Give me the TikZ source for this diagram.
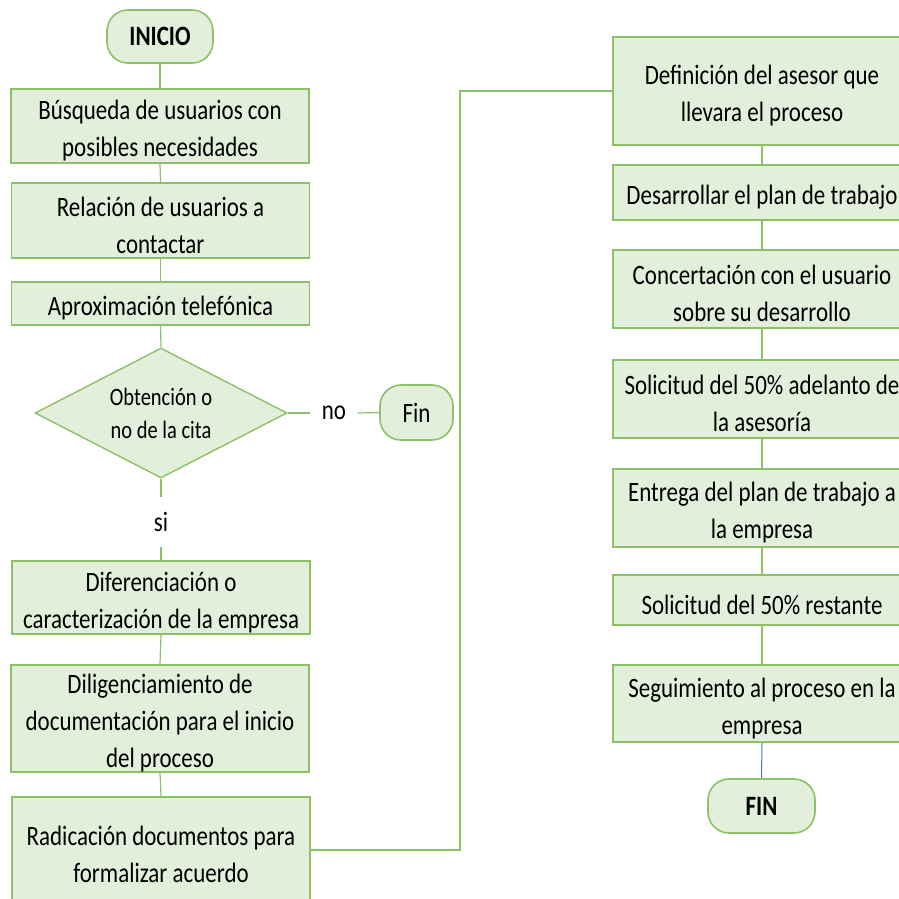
\documentclass[tikz,border=0pt]{standalone}
\usepackage{fontspec}
\setmainfont[FakeStretch=0.82]{Carlito}
\usetikzlibrary{shapes.geometric}
\definecolor{boxfill}{HTML}{E2EFDA}
\definecolor{boxline}{HTML}{8CC168}
\definecolor{lnk}{HTML}{8CC168}
\definecolor{bluelnk}{HTML}{4472C4}
\newcommand\topgap{\rule{0pt}{29pt}}
\begin{document}
\begin{tikzpicture}[x=1pt,y=-1pt,
 proc/.style={draw=boxline, fill=boxfill, line width=1.6pt, minimum width=298pt, inner sep=0pt, align=center, font=\fontsize{28}{37}\selectfont},
 term/.style={draw=boxline, fill=boxfill, line width=1.6pt, rounded corners=21pt, inner sep=0pt, font=\bfseries\fontsize{28}{37}\selectfont},
 dec/.style={diamond, draw=boxline, fill=boxfill, line width=1.4pt, aspect=1.94, minimum width=252pt, minimum height=130pt, inner sep=0pt, align=center, font=\fontsize{25}{33}\selectfont},
 lbl/.style={inner sep=0pt, font=\fontsize{28}{37}\selectfont},
 link/.style={draw=lnk, line width=1.2pt}]
\clip (0,0) rectangle (899,899);
\fill[white] (0,0) rectangle (899,899);
% left column
\node[term, minimum width=106pt, minimum height=53pt] (ini) at (160,36.5) {INICIO};
\node[proc, minimum height=74pt] (b1) at (160,126) {\topgap Búsqueda de usuarios con\\posibles necesidades};
\node[proc, minimum height=75pt] (b2) at (160.5,220.5) {\topgap Relación de usuarios a\\contactar};
\node[proc, minimum height=43pt] (b3) at (160.5,303.5) {\topgap Aproximación telefónica};
\node[dec] (dec) at (161,413) {Obtención o\\no de la cita};
\node[lbl, minimum width=47pt] (no) at (334,413) {no};
\node[term, font=\fontsize{28}{37}\selectfont, minimum width=73pt, minimum height=55pt] (fin) at (416.5,412.5) {Fin};
\node[lbl, minimum height=50pt] (si) at (161,522) {si};
\node[proc, minimum height=73pt] (b4) at (161,597.5) {\topgap Diferenciación o\\caracterización de la empresa};
\node[proc, minimum height=107pt] (b5) at (160,718.5) {\topgap Diligenciamiento de\\documentación para el inicio\\del proceso};
\node[proc, minimum height=106pt] (b6) at (161,850) {\topgap Radicación documentos para\\formalizar acuerdo};
% right column
\node[proc, minimum height=108pt] (r1) at (762,91) {\topgap Definición del asesor que\\llevara el proceso};
\node[proc, minimum height=55pt] (r2) at (762,192.5) {\topgap Desarrollar el plan de trabajo};
\node[proc, minimum height=78pt] (r3) at (762,289) {\topgap Concertación con el usuario\\sobre su desarrollo};
\node[proc, minimum height=78pt] (r4) at (762,399) {\topgap Solicitud del 50\% adelanto de\\la asesoría};
\node[proc, minimum height=78pt] (r5) at (762,508) {\topgap Entrega del plan de trabajo a\\la empresa};
\node[proc, minimum height=50pt] (r6) at (762,600) {\topgap Solicitud del 50\% restante};
\node[proc, minimum height=77pt] (r7) at (762,703.5) {\topgap Seguimiento al proceso en la\\empresa};
\node[term, minimum width=107pt, minimum height=54pt] (FIN) at (761.5,806) {FIN};
% connectors
\coordinate (c1) at (460,850);
\coordinate (c2) at (460,91);
\draw[link] (ini.south) -- (b1.north);
\draw[link] (b1.south) -- (b2.north);
\draw[link] (b2.south) -- (b3.north);
\draw[link] (b3.south) -- (dec.north);
\draw[link] (dec.east) -- (no.west);
\draw[link] (no.east) -- (fin.west);
\draw[link] (dec.south) -- (si.north);
\draw[link] (si.south) -- (b4.north);
\draw[link] (b4.south) -- (b5.north);
\draw[link] (b5.south) -- (b6.north);
\draw[link] (b6.east |- c1) -- (c1) -- (c2) -- (r1.west);
\draw[link] (r1.south) -- (r2.north);
\draw[link] (r2.south) -- (r3.north);
\draw[link] (r3.south) -- (r4.north);
\draw[link] (r4.south) -- (r5.north);
\draw[link] (r5.south) -- (r6.north);
\draw[link] (r6.south) -- (r7.north);
\draw[draw=bluelnk, line width=1pt] (r7.south) -- (FIN.north);
\end{tikzpicture}
\end{document}
